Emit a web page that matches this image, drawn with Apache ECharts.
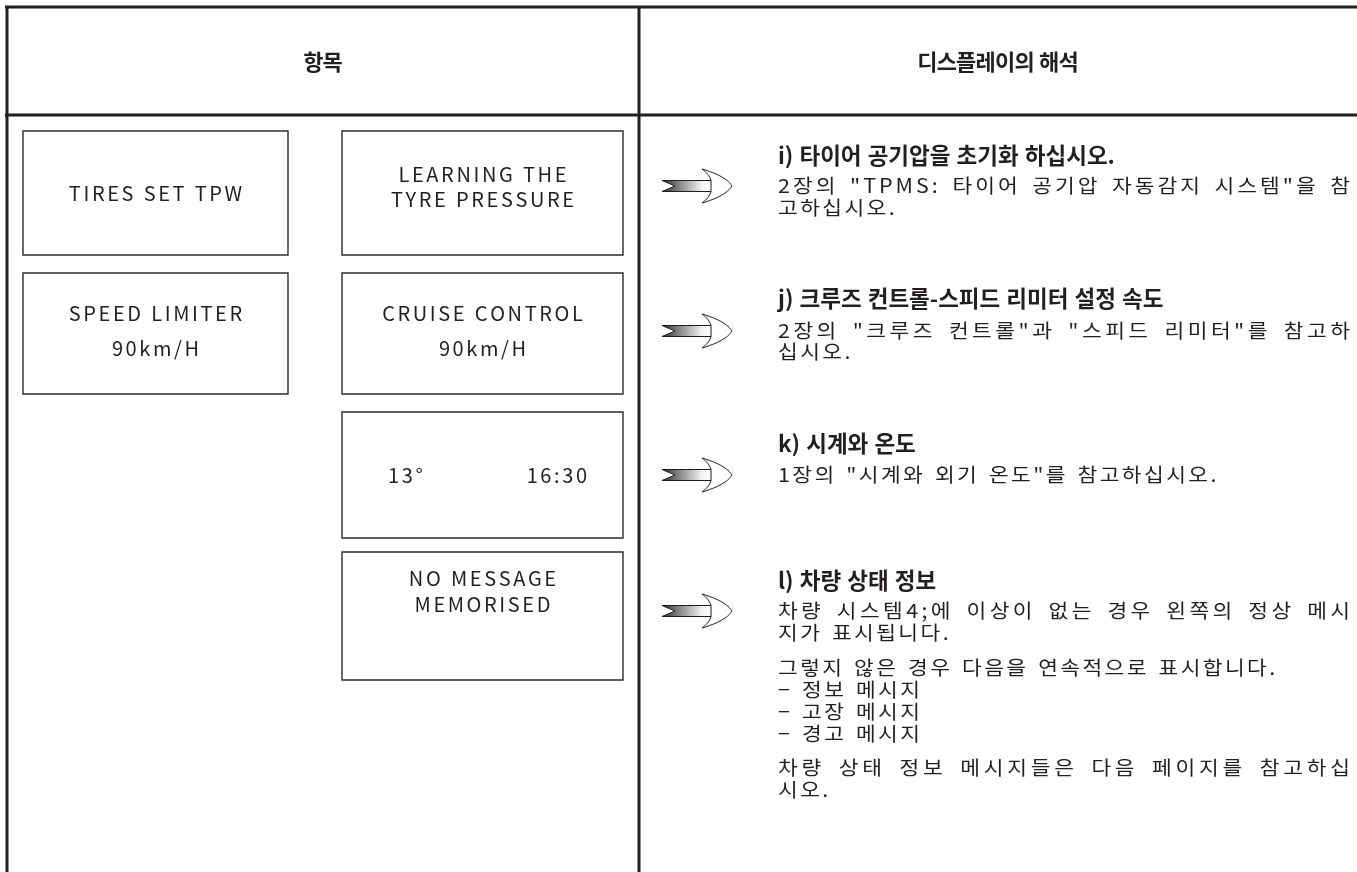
<!DOCTYPE html>
<html>
<head>
<meta charset="utf-8">
<script src="https://cdn.jsdelivr.net/npm/echarts@6/dist/echarts.min.js"></script>
<style>
html,body{margin:0;padding:0;background:#fff;}
#main{width:1357px;height:872px;}
</style>
</head>
<body>
<div id="main"></div>
<script>
// ---------- content ----------
const headerTexts = ['항목', '디스플레이의 해석'];
const leftBoxTexts = [['TIRES SET TPW'], ['SPEED LIMITER', '90km/H']];
const rightBoxTexts = [['LEARNING THE', 'TYRE PRESSURE'], ['CRUISE CONTROL', '90km/H'], ['13°', '16:30'], ['NO MESSAGE', 'MEMORISED']];
const headings = [
  'i) 타이어 공기압을 초기화 하십시오.',
  'j) 크루즈 컨트롤-스피드 리미터 설정 속도',
  'k) 시계와 온도',
  'l) 차량 상태 정보'
];
const bodyBlocks = [
  [['2장의 "TPMS: 타이어 공기압 자동감지 시스템"을 참', '고하십시오.']],
  [['2장의 "크루즈 컨트롤"과 "스피드 리미터"를 참고하', '십시오.']],
  [['1장의 "시계와 외기 온도"를 참고하십시오.']],
  [
    ['차량 시스템4;에 이상이 없는 경우 왼쪽의 정상 메시', '지가 표시됩니다.'],
    ['그렇지 않은 경우 다음을 연속적으로 표시합니다.', '− 정보 메시지', '− 고장 메시지', '− 경고 메시지'],
    ['차량 상태 정보 메시지들은 다음 페이지를 참고하십', '시오.']
  ]
];

// ---------- layout ----------
const INK = '#231f20';
const FAM = '"Noto Sans CJK KR", "Noto Sans", sans-serif';
const measureCtx = document.createElement('canvas').getContext('2d');
function fontStr(o){ return (o.weight||'normal') + ' ' + o.size + 'px ' + FAM; }
function charW(ch, o){ measureCtx.font = fontStr(o); return measureCtx.measureText(ch).width * (o.sx||1); }

const elements = [];
function placeLine(str, o){
  const chars = Array.from(str);
  const track = o.track||0, gap = o.wordGap||0;
  const adv = chars.map(c => charW(c,o) + track + (c===' ' ? gap : 0));
  let total = adv.reduce((a,b)=>a+b,0) - track;
  let x;
  if (o.align === 'center') x = o.cx - total/2;
  else if (o.align === 'right') x = o.right - total;
  else x = o.x;
  if (o.align === 'justify') {
    let wsum = 0;
    const w = chars.map((c,i)=> i===chars.length-1 ? 0 : (c===' ' ? 3 : 1));
    w.forEach(v=>wsum+=v);
    const extra = (o.right - o.x - total)/wsum;
    chars.forEach((c,i)=>{ adv[i] += extra*w[i]; });
  }
  chars.forEach((c,i)=>{
    if (c !== ' ') {
      elements.push({type:'text', silent:true, x:x, y:o.y, scaleX:o.sx||1,
        style:{text:c, x:0, y:0, font:fontStr(o), fill:INK, textAlign:'left', textVerticalAlign:'middle'}});
    }
    x += adv[i];
  });
}

// table frame
const lineStyle = {stroke:INK, lineWidth:3};
[[5,7,1357,7],[5,115,1357,115],[7,6,7,872],[639,6,639,872]].forEach(l=>{
  elements.push({type:'line', silent:true, shape:{x1:l[0],y1:l[1],x2:l[2],y2:l[3]}, style:lineStyle});
});

// headers
const headerFont = {size:22, weight:'bold', track:-0.8, wordGap:1};
placeLine(headerTexts[0], Object.assign({align:'center', cx:323, y:62}, headerFont));
placeLine(headerTexts[1], Object.assign({align:'center', cx:998, y:62}, headerFont));

// boxes
const boxFont = {size:20, weight:'normal', track:2.6, wordGap:0.5};
const rowsY = [[131,255],[273,394],[412,538],[552,680]];
const leftCol = [23,288], rightCol = [342,623];
function box(col,row){
  elements.push({type:'rect', silent:true, shape:{x:col[0], y:row[0], width:col[1]-col[0], height:row[1]-row[0]}, style:{fill:'transparent', stroke:'#2b2b2b', lineWidth:1.4}});
}
box(leftCol, rowsY[0]); box(leftCol, rowsY[1]);
rowsY.forEach(r=>box(rightCol, r));

const lcx = (leftCol[0]+leftCol[1])/2, rcx = (rightCol[0]+rightCol[1])/2;
placeLine(leftBoxTexts[0][0], Object.assign({align:'center', cx:lcx, y:193}, boxFont));
placeLine(leftBoxTexts[1][0], Object.assign({align:'center', cx:lcx, y:313}, boxFont));
placeLine(leftBoxTexts[1][1], Object.assign({align:'center', cx:lcx, y:348}, boxFont));
placeLine(rightBoxTexts[0][0], Object.assign({align:'center', cx:rcx, y:174}, boxFont));
placeLine(rightBoxTexts[0][1], Object.assign({align:'center', cx:rcx, y:199}, boxFont));
placeLine(rightBoxTexts[1][0], Object.assign({align:'center', cx:rcx, y:313}, boxFont));
placeLine(rightBoxTexts[1][1], Object.assign({align:'center', cx:rcx, y:348}, boxFont));
placeLine(rightBoxTexts[2][0], Object.assign({align:'left', x:388, y:475}, boxFont));
placeLine(rightBoxTexts[2][1], Object.assign({align:'right', right:587, y:475}, boxFont));
placeLine(rightBoxTexts[3][0], Object.assign({align:'center', cx:rcx, y:578}, boxFont));
placeLine(rightBoxTexts[3][1], Object.assign({align:'center', cx:rcx, y:604}, boxFont));

// arrows
function sampleQ(p0,p1,p2,n){
  const pts=[];
  for(let i=1;i<=n;i++){const t=i/n,u=1-t;pts.push([u*u*p0[0]+2*u*t*p1[0]+t*t*p2[0], u*u*p0[1]+2*u*t*p1[1]+t*t*p2[1]]);}
  return pts;
}
function arrow(x0,cy){
  const P = (dx,dy)=>[x0+dx, cy+dy];
  elements.push({type:'polygon', silent:true, shape:{points:[P(0,-5.5),P(50,-5.5),P(50,5.5),P(0,5.5),P(13,0)]},
    style:{fill:new echarts.graphic.LinearGradient(0,0,1,0,[{offset:0,color:'#2a2a2a'},{offset:0.3,color:'#7a7a7a'},{offset:0.8,color:'#f4f4f4'},{offset:1,color:'#ffffff'}]), stroke:INK, lineWidth:1}});
  let pts=[P(49,-5.5)];
  pts = pts.concat(sampleQ(P(49,-5.5),P(47,-12),P(40,-17),8));
  pts = pts.concat(sampleQ(P(40,-17),P(64,-10),P(70,0),12));
  pts = pts.concat(sampleQ(P(70,0),P(64,10),P(40,17),12));
  pts = pts.concat(sampleQ(P(40,17),P(47,12),P(49,5.5),8));
  elements.push({type:'polygon', silent:true, shape:{points:pts}, style:{fill:'#fff', stroke:INK, lineWidth:1}});
}
[186,331,475,611].forEach(cy=>arrow(662,cy));

// right column texts
const headFont = {size:22.5, weight:'bold', track:0, wordGap:1};
const bodyFont = {size:19.5, sx:1.1, weight:'normal', track:2.4, wordGap:2.5};
const TX = 778, TR = 1350;
const headY = [155,298,443,580];
const bodyY = [
  [[186,208]],
  [[331,352]],
  [[475]],
  [[611,633],[668,690,712,734],[768,790]]
];
headings.forEach((h,i)=>placeLine(h, Object.assign({align:'left', x:TX, y:headY[i]}, headFont)));
bodyBlocks.forEach((blk,bi)=>{
  blk.forEach((para,pi)=>{
    para.forEach((ln,li)=>{
      const justify = para.length>1 && li===0 && !para[1].startsWith('−');
      placeLine(ln, Object.assign({align: justify?'justify':'left', x:TX, right:TR, y:bodyY[bi][pi][li]}, bodyFont));
    });
  });
});

const chart = echarts.init(document.getElementById('main'), null, {renderer:'canvas'});
chart.setOption({backgroundColor:'#ffffff', animation:false, graphic:{elements:elements}});
</script>
</body>
</html>
